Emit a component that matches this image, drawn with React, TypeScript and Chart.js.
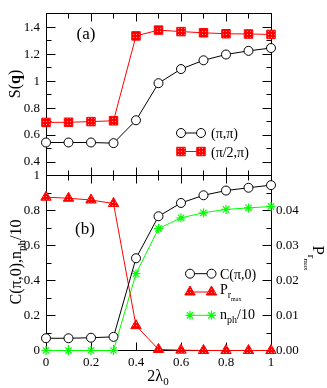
import React, { useEffect, useRef } from "react";
import { Chart, registerables } from "chart.js";
Chart.register(...registerables);

// ---- data ----
const xValues = [0, 0.1, 0.2, 0.3, 0.4, 0.5, 0.6, 0.7, 0.8, 0.9, 1.0];
const sPiPi = [0.545, 0.545, 0.545, 0.54, 0.71, 0.985, 1.09, 1.155, 1.198, 1.225, 1.246];
const sHalfPiPi = [0.694, 0.695, 0.7, 0.706, 1.336, 1.379, 1.368, 1.359, 1.352, 1.35, 1.347];
const cPi0 = [0.07, 0.07, 0.073, 0.078, 0.527, 0.767, 0.843, 0.887, 0.914, 0.93, 0.945];
const prMax = [0.0438, 0.0435, 0.043, 0.042, 0.0071, 0.0003, 0.0001, 0, 0, 0, 0];
const nph10 = [0, 0, 0, 0, 0.439, 0.697, 0.758, 0.787, 0.806, 0.815, 0.823];

const xTicks = [0, 0.2, 0.4, 0.6, 0.8, 1];
const xMinor = [0.1, 0.3, 0.5, 0.7, 0.9];
const sTicks = [0.4, 0.6, 0.8, 1.0, 1.2, 1.4];
const sMinor = [0.3, 0.5, 0.7, 0.9, 1.1, 1.3, 1.5];
const cTicks = [0, 0.2, 0.4, 0.6, 0.8, 1];
const cMinor = [0.1, 0.3, 0.5, 0.7, 0.9];
const pTicks = [0, 0.01, 0.02, 0.03, 0.04];
const pMinor = [0.005, 0.015, 0.025, 0.035, 0.045];

const FONT = '"Liberation Serif", "Times New Roman", serif';
const RED = "#ff0000";
const GREEN = "#00ff00";

type Part = { t: string; size: number; dy?: number; weight?: string };

function drawParts(ctx: CanvasRenderingContext2D, parts: Part[], x: number, y: number, rot: number, align: "left" | "center") {
  ctx.save();
  ctx.translate(x, y);
  ctx.rotate(rot);
  ctx.fillStyle = "#000";
  ctx.textBaseline = "alphabetic";
  ctx.textAlign = "left";
  const widths: number[] = [];
  let total = 0;
  for (const p of parts) {
    ctx.font = `${p.weight || "normal"} ${p.size}px ${FONT}`;
    const w = ctx.measureText(p.t).width;
    widths.push(w);
    total += w;
  }
  let cx = align === "center" ? -total / 2 : 0;
  parts.forEach((p, i) => {
    ctx.font = `${p.weight || "normal"} ${p.size}px ${FONT}`;
    ctx.fillText(p.t, cx, p.dy || 0);
    cx += widths[i];
  });
  ctx.restore();
}

function drawMarker(ctx: CanvasRenderingContext2D, style: string, x: number, y: number, fill: any, stroke: string) {
  ctx.save();
  ctx.lineWidth = 1;
  ctx.strokeStyle = stroke;
  ctx.fillStyle = fill;
  ctx.beginPath();
  if (style === "circle") {
    ctx.arc(x, y, 4.5, 0, Math.PI * 2);
    ctx.fill();
    ctx.stroke();
  } else if (style === "rect") {
    const s = 6 * Math.SQRT1_2;
    ctx.rect(x - s, y - s, 2 * s, 2 * s);
    ctx.fill();
    ctx.stroke();
  } else if (style === "triangle") {
    const r = 6;
    let a = 0;
    ctx.moveTo(x + Math.sin(a) * r, y - Math.cos(a) * r);
    a += (2 * Math.PI) / 3;
    ctx.lineTo(x + Math.sin(a) * r, y - Math.cos(a) * r);
    a += (2 * Math.PI) / 3;
    ctx.lineTo(x + Math.sin(a) * r, y - Math.cos(a) * r);
    ctx.closePath();
    ctx.fill();
    ctx.stroke();
  } else if (style === "star") {
    const r = 4.5;
    ctx.lineWidth = 1.2;
    ctx.moveTo(x, y - r); ctx.lineTo(x, y + r);
    ctx.moveTo(x - r, y); ctx.lineTo(x + r, y);
    const d = r * Math.SQRT1_2;
    ctx.moveTo(x - d, y - d); ctx.lineTo(x + d, y + d);
    ctx.moveTo(x - d, y + d); ctx.lineTo(x + d, y - d);
    ctx.stroke();
  }
  ctx.restore();
}

function legendRow(ctx: CanvasRenderingContext2D, x1: number, x2: number, y: number, color: string, style: string, fill: any) {
  ctx.save();
  ctx.strokeStyle = color;
  ctx.lineWidth = 1;
  ctx.beginPath();
  ctx.moveTo(x1, y);
  ctx.lineTo(x2, y);
  ctx.stroke();
  ctx.restore();
  drawMarker(ctx, style, x1, y, fill, color);
  drawMarker(ctx, style, x2, y, fill, color);
}

type TickSpec = { id: string; side: "left" | "right" | "top" | "bottom"; values: number[]; len: number };

function framePlugin(specs: TickSpec[]) {
  return {
    id: "frameTicks",
    beforeDatasetsDraw(chart: any) {
      const { ctx, chartArea: a } = chart;
      ctx.save();
      ctx.strokeStyle = "#000";
      ctx.lineWidth = 1;
      const L = Math.floor(a.left) + 0.5, R = Math.floor(a.right) + 0.5;
      const T = Math.floor(a.top) + 0.5, B = Math.floor(a.bottom) + 0.5;
      ctx.strokeRect(L, T, R - L, B - T);
      for (const s of specs) {
        const sc = chart.scales[s.id];
        for (const v of s.values) {
          const p = Math.floor(sc.getPixelForValue(v)) + 0.5;
          ctx.beginPath();
          if (s.side === "bottom") { ctx.moveTo(p, B); ctx.lineTo(p, B - s.len); }
          if (s.side === "top") { ctx.moveTo(p, T); ctx.lineTo(p, T + s.len); }
          if (s.side === "left") { ctx.moveTo(L, p); ctx.lineTo(L + s.len, p); }
          if (s.side === "right") { ctx.moveTo(R, p); ctx.lineTo(R - s.len, p); }
          ctx.stroke();
        }
      }
      ctx.restore();
    },
  };
}

function makePattern(ctx: CanvasRenderingContext2D) {
  const c = document.createElement("canvas");
  c.width = 3;
  c.height = 3;
  const g = c.getContext("2d")!;
  g.fillStyle = RED;
  g.fillRect(0, 0, 3, 3);
  g.fillStyle = "#ff9a9a";
  g.fillRect(1, 1, 1, 1);
  return ctx.createPattern(c, "repeat");
}

const pts = (ys: number[]) => xValues.map((x, i) => ({ x, y: ys[i] }));
const plainLabel = (v: any) => String(Math.round(Number(v) * 1000) / 1000);

export default function App() {
  const topRef = useRef<HTMLCanvasElement>(null);
  const botRef = useRef<HTMLCanvasElement>(null);

  useEffect(() => {
    const topCtx = topRef.current!.getContext("2d")!;
    const botCtx = botRef.current!.getContext("2d")!;
    const patTop = makePattern(topCtx);
    const patBot = makePattern(botCtx);
    const tickFont = { family: FONT, size: 13 };

    const topChart = new Chart(topRef.current!, {
      type: "line",
      data: {
        datasets: [
          {
            data: pts(sPiPi),
            borderColor: "#000",
            borderWidth: 1,
            pointStyle: "circle",
            pointRadius: 4.5,
            pointBackgroundColor: "#fff",
            pointBorderColor: "#000",
            pointBorderWidth: 1,
            clip: false as any,
          },
          {
            data: pts(sHalfPiPi),
            borderColor: RED,
            borderWidth: 1,
            pointStyle: "rect",
            pointRadius: 6,
            pointBackgroundColor: patTop as any,
            pointBorderColor: RED,
            pointBorderWidth: 1,
            clip: false as any,
          },
        ],
      },
      options: {
        animation: false,
        responsive: false,
        layout: { padding: { top: 1.5, bottom: 212.5, left: 0, right: 56 } },
        plugins: { legend: { display: false }, tooltip: { enabled: false } },
        scales: {
          x: {
            type: "linear",
            min: 0,
            max: 1,
            ticks: { display: false },
            grid: { display: false, drawTicks: false },
            border: { display: false },
            afterFit: (s: any) => { s.height = 0; },
          },
          y: {
            type: "linear",
            min: 0.3,
            max: 1.5,
            afterBuildTicks: (s: any) => { s.ticks = sTicks.map((v) => ({ value: v })); },
            ticks: { font: tickFont, color: "#000", padding: 6, callback: plainLabel },
            grid: { display: false, drawTicks: false },
            border: { display: false },
            afterFit: (s: any) => { s.width = 46; },
          },
        },
      },
      plugins: [
        framePlugin([
          { id: "x", side: "bottom", values: xTicks, len: 8 },
          { id: "x", side: "bottom", values: xMinor, len: 5 },
          { id: "x", side: "top", values: xTicks, len: 8 },
          { id: "x", side: "top", values: xMinor, len: 5 },
          { id: "y", side: "left", values: sTicks, len: 9 },
          { id: "y", side: "left", values: sMinor, len: 5 },
          { id: "y", side: "right", values: sTicks, len: 9 },
          { id: "y", side: "right", values: sMinor, len: 5 },
        ]),
        {
          id: "topText",
          afterDatasetsDraw(chart: any) {
            const ctx = chart.ctx;
            drawParts(ctx, [{ t: "S(", size: 16 }, { t: "q", size: 16, weight: "bold" }, { t: ")", size: 16 }], 20, 84, -Math.PI / 2, "center");
            drawParts(ctx, [{ t: "(a)", size: 17 }], 86, 39, 0, "center");
            legendRow(ctx, 181, 201, 133, "#000", "circle", "#fff");
            legendRow(ctx, 181, 201, 151.5, RED, "rect", patTop);
            drawParts(ctx, [{ t: "(π,π)", size: 14 }], 211, 138, 0, "left");
            drawParts(ctx, [{ t: "(π/2,π)", size: 14 }], 211, 156.5, 0, "left");
          },
        },
      ],
    });

    const botChart = new Chart(botRef.current!, {
      type: "line",
      data: {
        datasets: [
          {
            data: pts(cPi0),
            yAxisID: "y",
            borderColor: "#000",
            borderWidth: 1,
            pointStyle: "circle",
            pointRadius: 4.5,
            pointBackgroundColor: "#fff",
            pointBorderColor: "#000",
            pointBorderWidth: 1,
            clip: false as any,
          },
          {
            data: pts(prMax),
            yAxisID: "y2",
            borderColor: RED,
            borderWidth: 1,
            pointStyle: "triangle",
            pointRadius: 6,
            pointBackgroundColor: patBot as any,
            pointBorderColor: RED,
            pointBorderWidth: 1,
            clip: false as any,
          },
          {
            data: pts(nph10),
            yAxisID: "y",
            borderColor: GREEN,
            borderWidth: 1,
            pointStyle: "star",
            pointRadius: 4.5,
            pointBorderColor: GREEN,
            pointBorderWidth: 1.2,
            clip: false as any,
          },
        ],
      },
      options: {
        animation: false,
        responsive: false,
        layout: { padding: { top: 175.5, bottom: 0, left: 0, right: 0 } },
        plugins: { legend: { display: false }, tooltip: { enabled: false } },
        scales: {
          x: {
            type: "linear",
            min: 0,
            max: 1,
            afterBuildTicks: (s: any) => { s.ticks = xTicks.map((v) => ({ value: v })); },
            ticks: { font: tickFont, color: "#000", padding: 4, maxRotation: 0, callback: plainLabel },
            grid: { display: false, drawTicks: false },
            border: { display: false },
            afterFit: (s: any) => { s.height = 37.5; },
          },
          y: {
            type: "linear",
            position: "left",
            min: 0,
            max: 1,
            afterBuildTicks: (s: any) => { s.ticks = cTicks.map((v) => ({ value: v })); },
            ticks: { font: tickFont, color: "#000", padding: 6, callback: plainLabel },
            grid: { display: false, drawTicks: false },
            border: { display: false },
            afterFit: (s: any) => { s.width = 46; },
          },
          y2: {
            type: "linear",
            position: "right",
            min: 0,
            max: 0.05,
            afterBuildTicks: (s: any) => { s.ticks = pTicks.map((v) => ({ value: v })); },
            ticks: { font: tickFont, color: "#000", padding: 5, callback: (v: any) => Number(v).toFixed(2) },
            grid: { display: false, drawTicks: false },
            border: { display: false },
            afterFit: (s: any) => { s.width = 56; },
          },
        },
      },
      plugins: [
        framePlugin([
          { id: "x", side: "bottom", values: xTicks, len: 8 },
          { id: "x", side: "bottom", values: xMinor, len: 5 },
          { id: "x", side: "top", values: xTicks, len: 8 },
          { id: "x", side: "top", values: xMinor, len: 5 },
          { id: "y", side: "left", values: cTicks, len: 9 },
          { id: "y", side: "left", values: cMinor, len: 5 },
          { id: "y2", side: "right", values: pTicks, len: 9 },
          { id: "y2", side: "right", values: pMinor, len: 5 },
        ]),
        {
          id: "botText",
          afterDatasetsDraw(chart: any) {
            const ctx = chart.ctx;
            drawParts(ctx, [{ t: "C(π,0),n", size: 16 }, { t: "ph", size: 11, dy: 4 }, { t: "/10", size: 16 }], 21, 262, -Math.PI / 2, "center");
            drawParts(ctx, [{ t: "P", size: 17 }, { t: "r", size: 11, dy: 5 }, { t: "max", size: 7, dy: 9 }], 313, 258, Math.PI / 2, "center");
            drawParts(ctx, [{ t: "2λ", size: 16 }, { t: "0", size: 11, dy: 4 }], 158, 381, 0, "center");
            drawParts(ctx, [{ t: "(b)", size: 17 }], 85, 234, 0, "center");
            legendRow(ctx, 190, 211.5, 273.7, "#000", "circle", "#fff");
            legendRow(ctx, 190, 211.5, 292, RED, "triangle", patBot);
            legendRow(ctx, 190, 211.5, 315.3, GREEN, "star", GREEN);
            drawParts(ctx, [{ t: "C(π,0)", size: 14 }], 220, 278.7, 0, "left");
            drawParts(ctx, [{ t: "P", size: 14 }, { t: "r", size: 10, dy: 4 }, { t: "max", size: 6, dy: 7 }], 220, 294, 0, "left");
            drawParts(ctx, [{ t: "n", size: 14 }, { t: "ph", size: 10, dy: 4 }, { t: "/10", size: 14 }], 220, 318.5, 0, "left");
          },
        },
      ],
    });

    return () => {
      topChart.destroy();
      botChart.destroy();
    };
  }, []);

  return (
    <div style={{ position: "fixed", left: 0, top: 0, width: 327, height: 388, background: "#fff" }}>
      <canvas ref={topRef} width={327} height={388} style={{ position: "absolute", left: 0, top: 0 }} />
      <canvas ref={botRef} width={327} height={388} style={{ position: "absolute", left: 0, top: 0 }} />
    </div>
  );
}
